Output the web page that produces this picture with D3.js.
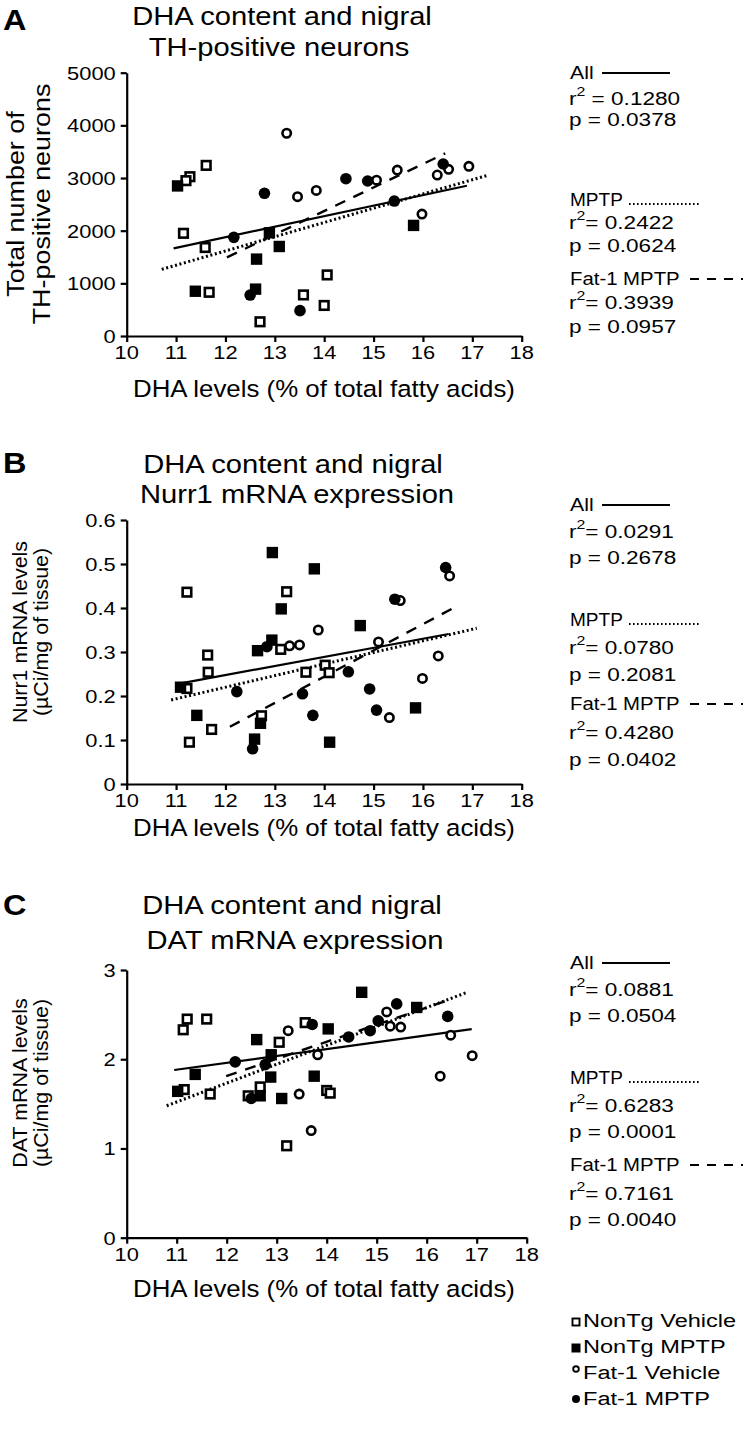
<!DOCTYPE html>
<html><head><meta charset="utf-8">
<script src="https://cdn.jsdelivr.net/npm/d3@7"></script>
<style>body{margin:0;background:#fff}svg{display:block}text{font-family:"Liberation Sans",Arial,sans-serif;fill:#000}</style>
</head><body><svg id="c" width="747" height="1435"></svg>
<script>
// ---------- data ----------
const xTicks = [10, 11, 12, 13, 14, 15, 16, 17, 18];
const A_yTicks = [0, 1000, 2000, 3000, 4000, 5000];
const B_yTicks = [0, 0.1, 0.2, 0.3, 0.4, 0.5, 0.6];
const C_yTicks = [0, 1, 2, 3];
const groups = ["NonTg Vehicle", "NonTg MPTP", "Fat-1 Vehicle", "Fat-1 MPTP"];
const fitNames = ["All", "MPTP", "Fat-1 MPTP"];

const A_nonTgVehicle = [[11.28,3025],[11.20,2950],[11.61,3240],[11.15,1950],[11.59,1680],[11.67,830],[12.70,270],[13.58,780],[14.00,580],[14.06,1160]];
const A_nonTgMPTP = [[11.03,2850],[11.39,850],[12.63,1460],[12.61,890],[12.89,1960],[13.09,1700],[15.81,2100]];
const A_fat1Vehicle = [[13.24,3850],[13.46,2645],[13.84,2765],[15.06,2960],[15.48,3150],[15.98,2316],[16.29,3057],[16.52,3165],[16.93,3222]];
const A_fat1MPTP = [[12.79,2710],[12.17,1873],[12.50,778],[13.51,481],[14.44,2987],[14.88,2943],[15.42,2563],[16.41,3266]];
const A_fitAll = [[10.95,1665],[16.89,2854]];
const A_fitMPTP = [[10.71,1266],[17.31,3051]];
const A_fitFat1 = [[12.03,1494],[16.45,3468]];
const A_r2 = ["0.1280", "0.2422", "0.3939"];
const A_p = ["0.0378", "0.0624", "0.0957"];

const B_nonTgVehicle = [[11.22,0.436],[11.64,0.293],[11.65,0.254],[11.22,0.217],[11.27,0.095],[11.72,0.124],[13.24,0.437],[13.12,0.306],[13.63,0.254],[14.02,0.270],[14.10,0.253],[12.73,0.155]];
const B_nonTgMPTP = [[12.95,0.526],[13.80,0.489],[13.13,0.398],[14.73,0.360],[12.94,0.327],[12.65,0.303],[11.09,0.220],[11.42,0.156],[12.71,0.138],[12.59,0.102],[14.11,0.095],[15.85,0.173]];
const B_fat1Vehicle = [[13.88,0.350],[13.30,0.314],[13.50,0.316],[15.10,0.323],[16.31,0.291],[15.99,0.240],[15.32,0.151],[15.54,0.417],[16.54,0.473]];
const B_fat1MPTP = [[12.84,0.312],[12.23,0.210],[13.56,0.205],[13.77,0.156],[14.49,0.255],[14.92,0.216],[15.06,0.168],[15.43,0.420],[16.46,0.492],[12.55,0.080]];
const B_fitAll = [[11.01,0.227],[16.52,0.341]];
const B_fitMPTP = [[10.90,0.191],[17.09,0.354]];
const B_fitFat1 = [[12.09,0.130],[16.65,0.402]];
const B_r2 = ["0.0291", "0.0780", "0.4280"];
const B_p = ["0.2678", "0.2081", "0.0402"];

const C_nonTgVehicle = [[11.21,2.45],[11.13,2.33],[11.60,2.45],[11.15,1.66],[11.67,1.61],[13.57,2.41],[13.05,2.19],[12.67,1.69],[12.43,1.59],[14.00,1.65],[14.07,1.62],[13.20,1.03]];
const C_nonTgMPTP = [[14.70,2.75],[15.80,2.58],[14.03,2.34],[12.60,2.22],[12.89,2.05],[11.37,1.83],[11.02,1.64],[12.88,1.80],[13.75,1.81],[12.67,1.59],[13.10,1.56]];
const C_fat1Vehicle = [[13.23,2.32],[15.20,2.53],[15.27,2.37],[15.48,2.36],[16.48,2.27],[16.91,2.04],[16.27,1.81],[13.82,2.05],[13.45,1.61],[13.69,1.20]];
const C_fat1MPTP = [[13.71,2.39],[12.17,1.97],[12.77,1.94],[12.49,1.56],[14.44,2.25],[14.87,2.32],[15.03,2.43],[15.40,2.62],[16.42,2.48]];
const C_fitAll = [[10.95,1.879],[16.90,2.338]];
const C_fitMPTP = [[10.80,1.479],[16.79,2.746]];
const C_fitFat1 = [[11.99,1.81],[16.47,2.67]];
const C_r2 = ["0.0881", "0.6283", "0.7161"];
const C_p = ["0.0504", "0.0001", "0.0040"];

// ---------- drawing ----------
const svg = d3.select("#c");

function txt(g, x, y, s, o = {}) {
  const t = g.append("text")
    .attr("transform", `translate(${x},${y})` + (o.rot ? ` rotate(${o.rot})` : "") + ` scale(${o.sx || 1},1)`)
    .attr("text-anchor", o.anchor || "start")
    .style("font-size", (o.size || 18) + "px");
  if (o.weight) t.style("font-weight", o.weight);
  t.text(s);
  return t;
}

function marker(g, kind, cx, cy) {
  if (kind === 0) g.append("rect").attr("x", cx - 4.3).attr("y", cy - 4.3).attr("width", 8.6).attr("height", 8.6).attr("fill", "#fff").attr("stroke", "#000").attr("stroke-width", 2.6);
  else if (kind === 1) g.append("rect").attr("x", cx - 5.7).attr("y", cy - 5.7).attr("width", 11.4).attr("height", 11.4).attr("fill", "#000");
  else if (kind === 2) g.append("circle").attr("cx", cx).attr("cy", cy).attr("r", 4.2).attr("fill", "#fff").attr("stroke", "#000").attr("stroke-width", 2.6);
  else g.append("circle").attr("cx", cx).attr("cy", cy).attr("r", 5.8).attr("fill", "#000");
}

const lineStyles = [
  { w: 2.2, dash: null },
  { w: 3, dash: "2,2.6" },
  { w: 2.4, dash: "11,9" }
];
const nameScale = [1.15, 1.03, 1.1];

function panel(cfg) {
  const x = d3.scaleLinear().domain([10, 18]).range(cfg.xr);
  const y = d3.scaleLinear().domain(cfg.yd).range(cfg.yr);
  const g = svg.append("g");

  // letter + title
  txt(g, cfg.letter[0], cfg.letter[1], cfg.letter[2], { size: 29, weight: "bold", sx: 1.12 });
  txt(g, cfg.titleX, cfg.titleY[0], cfg.title[0], { size: 26.5, anchor: "middle", sx: 1.1 });
  txt(g, cfg.titleX2, cfg.titleY[1], cfg.title[1], { size: 26.5, anchor: "middle", sx: 1.1 });

  // axes
  const ax = g.append("g").attr("transform", `translate(0,${cfg.yr[0]})`)
    .call(d3.axisBottom(x).tickValues(xTicks).tickSize(6).tickSizeOuter(0).tickFormat(""));
  const ay = g.append("g").attr("transform", `translate(${cfg.xr[0]},0)`)
    .call(d3.axisLeft(y).tickValues(cfg.yTicks).tickSize(6).tickSizeOuter(0).tickFormat(""));
  [ax, ay].forEach(a => a.selectAll("path,line").attr("stroke", "#000").attr("stroke-width", 2.2));

  xTicks.forEach(v => txt(g, x(v), cfg.yr[0] + 23, String(v), { size: 19, anchor: "middle", sx: 1.15 }));
  cfg.yTicks.forEach(v => txt(g, cfg.xr[0] - 11, y(v) + 7, cfg.yFmt(v), { size: 19, anchor: "end", sx: 1.15 }));

  txt(g, 324, cfg.yr[0] + cfg.xlabOff, "DHA levels (% of total fatty acids)", { size: 23.5, anchor: "middle", sx: 1.1 });

  // y label
  txt(g, cfg.ylabX[0], cfg.ylabY, cfg.ylab[0], { size: cfg.ylabSize, anchor: "middle", rot: -90, sx: cfg.ylabS });
  txt(g, cfg.ylabX[1], cfg.ylabY, cfg.ylab[1], { size: cfg.ylabSize, anchor: "middle", rot: -90, sx: cfg.ylabS });

  // regression lines
  cfg.fits.forEach((f, i) => {
    const l = g.append("line")
      .attr("x1", x(f[0][0])).attr("y1", y(f[0][1]))
      .attr("x2", x(f[1][0])).attr("y2", y(f[1][1]))
      .attr("stroke", "#000").attr("stroke-width", lineStyles[i].w);
    if (lineStyles[i].dash) l.attr("stroke-dasharray", lineStyles[i].dash);
  });

  // points
  cfg.series.forEach((s, k) => s.forEach(d => marker(g, k, x(d[0]), y(d[1]))));

  // stats annotations
  const SS = 1.22;
  cfg.statY.forEach((by, i) => {
    txt(g, 570, by[0], fitNames[i], { size: 18.5, sx: nameScale[i] });
    const lx = cfg.legLine[i];
    const l = g.append("line").attr("x1", lx[0]).attr("x2", lx[1])
      .attr("y1", by[0] + lx[2]).attr("y2", by[0] + lx[2])
      .attr("stroke", "#000").attr("stroke-width", i === 1 ? 1.8 : 2.2);
    if (i === 1) l.attr("stroke-dasharray", "1.6,2.4");
    if (i === 2) l.attr("stroke-dasharray", "9,8");
    const t = g.append("text").attr("transform", `translate(569,${by[1]}) scale(${SS},1)`).style("font-size", "18.5px");
    t.append("tspan").text("r");
    t.append("tspan").attr("dy", -9).style("font-size", "13px").text("2");
    t.append("tspan").attr("dy", 9).text((cfg.spaceFirst && i === 0 ? " = " : "= ") + cfg.r2[i]);
    txt(g, 569, by[2], "p = " + cfg.p[i], { size: 18.5, sx: SS });
  });
}

const legLines = [[602, 670, -6], [629, 700, -2], [690, 743, -6]];

panel({
  xr: [126.7, 521.7], yd: [0, 5000], yr: [336, 72.7], yTicks: A_yTicks, yFmt: d => String(d),
  letter: [3, 30, "A"], title: ["DHA content and nigral", "TH-positive neurons"], titleX: 282, titleX2: 279, titleY: [25, 56],
  ylab: ["Total number of", "TH-positive neurons"], ylabX: [24, 50], ylabY: 204, ylabSize: 23, ylabS: 1.17,
  xlabOff: 61,
  fits: [A_fitAll, A_fitMPTP, A_fitFat1],
  series: [A_nonTgVehicle, A_nonTgMPTP, A_fat1Vehicle, A_fat1MPTP],
  r2: A_r2, p: A_p, spaceFirst: true,
  statY: [[79, 105, 126], [206, 229, 252], [285, 309, 333]],
  legLine: legLines
});

panel({
  xr: [126.7, 521.7], yd: [0, 0.6], yr: [784, 520], yTicks: B_yTicks, yFmt: d => d === 0 ? "0" : d.toFixed(1),
  letter: [3, 473, "B"], title: ["DHA content and nigral", "Nurr1 mRNA expression"], titleX: 293, titleX2: 297, titleY: [473, 503],
  ylab: ["Nurr1 mRNA levels", "(\u00b5Ci/mg of tissue)"], ylabX: [27, 48], ylabY: 632, ylabSize: 21, ylabS: 1.02,
  xlabOff: 52,
  fits: [B_fitAll, B_fitMPTP, B_fitFat1],
  series: [B_nonTgVehicle, B_nonTgMPTP, B_fat1Vehicle, B_fat1MPTP],
  r2: B_r2, p: B_p, spaceFirst: false,
  statY: [[511, 538, 564], [626, 654, 681], [710, 739, 766]],
  legLine: legLines
});

panel({
  xr: [126.7, 526.7], yd: [0, 3], yr: [1237.7, 970], yTicks: C_yTicks, yFmt: d => String(d),
  letter: [3, 915, "C"], title: ["DHA content and nigral", "DAT mRNA expression"], titleX: 292, titleX2: 295, titleY: [914, 949],
  ylab: ["DAT mRNA levels", "(\u00b5Ci/mg of tissue)"], ylabX: [27, 48], ylabY: 1083, ylabSize: 21, ylabS: 1.02,
  xlabOff: 59,
  fits: [C_fitAll, C_fitMPTP, C_fitFat1],
  series: [C_nonTgVehicle, C_nonTgMPTP, C_fat1Vehicle, C_fat1MPTP],
  r2: C_r2, p: C_p, spaceFirst: false,
  statY: [[969, 996, 1022], [1084, 1112, 1138], [1171, 1200, 1226]],
  legLine: legLines
});

// ---------- group legend ----------
const leg = svg.append("g");
const legY = [1327, 1353, 1379, 1405];
const legMarkY = [-5, -5, -10, -6];
groups.forEach((name, i) => {
  const cx = 576, cy = legY[i] + legMarkY[i];
  if (i === 0) leg.append("rect").attr("x", cx - 3.5).attr("y", cy - 3.5).attr("width", 7).attr("height", 7).attr("fill", "#fff").attr("stroke", "#000").attr("stroke-width", 1.9);
  else if (i === 1) leg.append("rect").attr("x", cx - 4.5).attr("y", cy - 4.5).attr("width", 9).attr("height", 9).attr("fill", "#000");
  else if (i === 2) leg.append("circle").attr("cx", cx).attr("cy", cy).attr("r", 2.8).attr("fill", "#fff").attr("stroke", "#000").attr("stroke-width", 1.9);
  else leg.append("circle").attr("cx", cx).attr("cy", cy).attr("r", 4).attr("fill", "#000");
  txt(leg, 583, legY[i], name, { size: 19, sx: 1.24 });
});
</script></body></html>
